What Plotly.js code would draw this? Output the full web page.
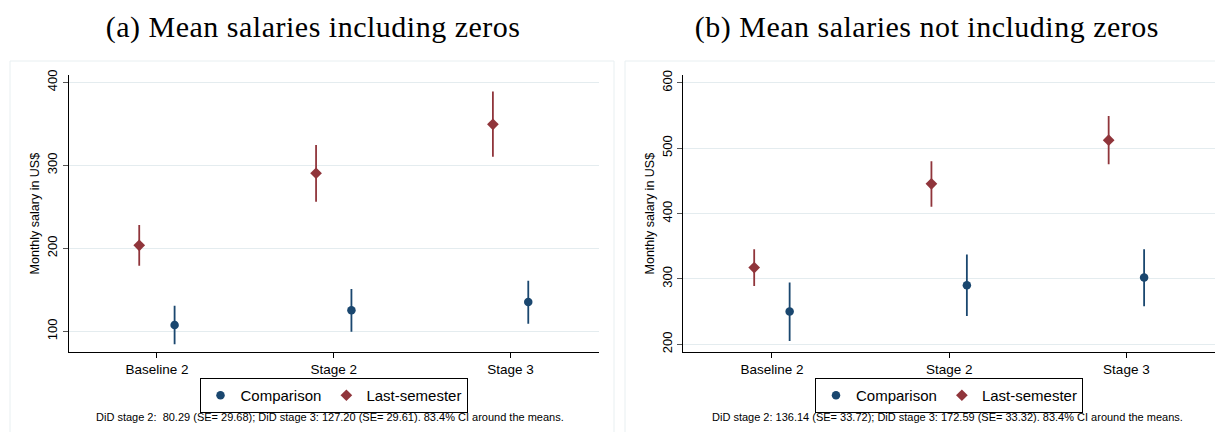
<!DOCTYPE html>
<html>
<head>
<meta charset="utf-8">
<script src="https://cdn.plot.ly/plotly-3.0.1.min.js"></script>
<style>
html,body{margin:0;padding:0;background:#fff;}
#chart{width:1215px;height:432px;}
.ptitle{letter-spacing:0.5px;}
</style>
</head>
<body>
<div id="chart"></div>
<script>
// ---- Data ----
const categories = ['Baseline 2', 'Stage 2', 'Stage 3'];
const seriesNames = ['Comparison', 'Last-semester'];
const panelTitles = ['(a) Mean salaries including zeros', '(b) Mean salaries not including zeros'];
const yAxisTitle = 'Monthly salary in US$';
const panelNotes = [
  'DiD stage 2:  80.29 (SE= 29.68); DiD stage 3: 127.20 (SE= 29.61). 83.4% CI around the means.',
  'DiD stage 2: 136.14 (SE= 33.72); DiD stage 3: 172.59 (SE= 33.32). 83.4% CI around the means.'
];

// Panel (a): including zeros
const zerosCompMean = [107.6, 125.3, 135.3];
const zerosCompLo   = [84.3, 99.6, 109.2];
const zerosCompHi   = [130.9, 151.0, 161.0];
const zerosLastMean = [203.6, 290.4, 349.4];
const zerosLastLo   = [179.1, 256.2, 310.4];
const zerosLastHi   = [228.1, 324.5, 388.8];

// Panel (b): not including zeros
const nzCompMean = [250.0, 290.3, 302.0];
const nzCompLo   = [205.1, 243.4, 258.2];
const nzCompHi   = [294.4, 337.2, 345.4];
const nzLastMean = [317.3, 445.4, 512.2];
const nzLastLo   = [289.3, 410.2, 475.5];
const nzLastHi   = [345.4, 480.1, 549.0];

// ---- Styles ----
const BLUE = '#1a476f';
const RED = '#90353b';
const GRID = '#e4ecef';
const FONT = 'Arial, "Liberation Sans", sans-serif';
const SERIF = '"Liberation Serif", "DejaVu Serif", serif';
const OFFSET = 0.1;

function pos(offset) { return categories.map((c, i) => i + 1 + offset); }
function mkTrace(name, mean, lo, hi, color, symbol, size, offset, xa, ya, legend) {
  return {
    type: 'scatter', mode: 'markers', name: name,
    x: pos(offset), y: mean, xaxis: xa, yaxis: ya, legend: legend, showlegend: true,
    marker: {color: color, symbol: symbol, size: size, line: {width: 0}},
    error_y: {type: 'data', symmetric: false,
      array: hi.map((h, i) => h - mean[i]),
      arrayminus: mean.map((m, i) => m - lo[i]),
      color: color, thickness: 1.8, width: 0}
  };
}

const traces = [
  mkTrace(seriesNames[0], zerosCompMean, zerosCompLo, zerosCompHi, BLUE, 'circle', 8.5, OFFSET, 'x', 'y', 'legend'),
  mkTrace(seriesNames[1], zerosLastMean, zerosLastLo, zerosLastHi, RED, 'diamond', 9, -OFFSET, 'x', 'y', 'legend'),
  mkTrace(seriesNames[0], nzCompMean, nzCompLo, nzCompHi, BLUE, 'circle', 8.5, OFFSET, 'x2', 'y2', 'legend2'),
  mkTrace(seriesNames[1], nzLastMean, nzLastLo, nzLastHi, RED, 'diamond', 9, -OFFSET, 'x2', 'y2', 'legend2')
];

function xAxis(domain) {
  return {
    domain: domain, range: [0.5, 3.5],
    tickmode: 'array', tickvals: categories.map((c, i) => i + 1), ticktext: categories,
    showgrid: false, zeroline: false, showline: true, linecolor: '#000', linewidth: 1,
    ticks: 'outside', ticklen: 5, tickcolor: '#000', tickwidth: 1,
    tickfont: {family: FONT, size: 13.5, color: '#000'}, fixedrange: true
  };
}
function yAxis(range, anchor) {
  return {
    domain: [0.1845, 0.8264], range: range, anchor: anchor, dtick: 100,
    showgrid: true, gridcolor: GRID, gridwidth: 1, zeroline: false,
    showline: true, linecolor: '#000', linewidth: 1,
    ticks: 'outside', ticklen: 5, tickcolor: '#555', tickwidth: 1, tickangle: -90,
    tickfont: {family: FONT, size: 13, color: '#000'},
    title: {text: yAxisTitle, font: {family: FONT, size: 12.5, color: '#000'}, standoff: 2},
    fixedrange: true
  };
}
function legendCfg(x) {
  return {
    orientation: 'h', x: x, xanchor: 'center', y: 54 / 432, yanchor: 'top',
    bordercolor: '#000', borderwidth: 1, bgcolor: '#fff',
    font: {family: FONT, size: 15, color: '#000'}, itemclick: false, itemdoubleclick: false
  };
}

const layout = {
  width: 1215, height: 432,
  margin: {l: 0, r: 0, t: 0, b: 0},
  paper_bgcolor: '#fff', plot_bgcolor: '#fff',
  showlegend: true,
  xaxis: Object.assign(xAxis([68.5 / 1215, 599 / 1215]), {anchor: 'y'}),
  yaxis: yAxis([74.7, 408.8], 'x'),
  xaxis2: Object.assign(xAxis([683.3 / 1215, 1]), {anchor: 'y2'}),
  yaxis2: yAxis([187.8, 611.8], 'x2'),
  legend: legendCfg(333.5 / 1215),
  legend2: legendCfg(949 / 1215),
  shapes: [
    {type: 'rect', xref: 'paper', yref: 'paper', x0: 10 / 1215, x1: 614 / 1215, y0: -0.01, y1: 371 / 432,
     line: {color: '#e8eff1', width: 1}, layer: 'below'},
    {type: 'rect', xref: 'paper', yref: 'paper', x0: 625 / 1215, x1: 1.01, y0: -0.01, y1: 371 / 432,
     line: {color: '#e8eff1', width: 1}, layer: 'below'}
  ],
  annotations: [
    {text: '<span class="ptitle">' + panelTitles[0] + '</span>', xref: 'paper', yref: 'paper', x: 313 / 1215, y: 405 / 432,
     xanchor: 'center', yanchor: 'middle', showarrow: false, font: {family: SERIF, size: 30, color: '#000'}},
    {text: '<span class="ptitle">' + panelTitles[1] + '</span>', xref: 'paper', yref: 'paper', x: 927 / 1215, y: 405 / 432,
     xanchor: 'center', yanchor: 'middle', showarrow: false, font: {family: SERIF, size: 30, color: '#000'}},
    {text: panelNotes[0], xref: 'paper', yref: 'paper', x: 330 / 1215, y: 15 / 432, xanchor: 'center', yanchor: 'middle',
     showarrow: false, font: {family: FONT, size: 11, color: '#000'}},
    {text: panelNotes[1], xref: 'paper', yref: 'paper', x: 947 / 1215, y: 15 / 432, xanchor: 'center', yanchor: 'middle',
     showarrow: false, font: {family: FONT, size: 11, color: '#000'}}
  ]
};

Plotly.newPlot('chart', traces, layout, {staticPlot: true, displayModeBar: false}).then(function () {
  // letter spacing for the serif panel titles (approximating the wider original typeface)
  document.querySelectorAll('.annotation-text').forEach(function (t) {
    if (t.textContent.indexOf('Mean salaries') === 0 || t.textContent.indexOf('(') === 0) {
      if (t.textContent.indexOf('Mean salaries') > -1) t.style.letterSpacing = '0.5px';
    }
  });
});
</script>
</body>
</html>
